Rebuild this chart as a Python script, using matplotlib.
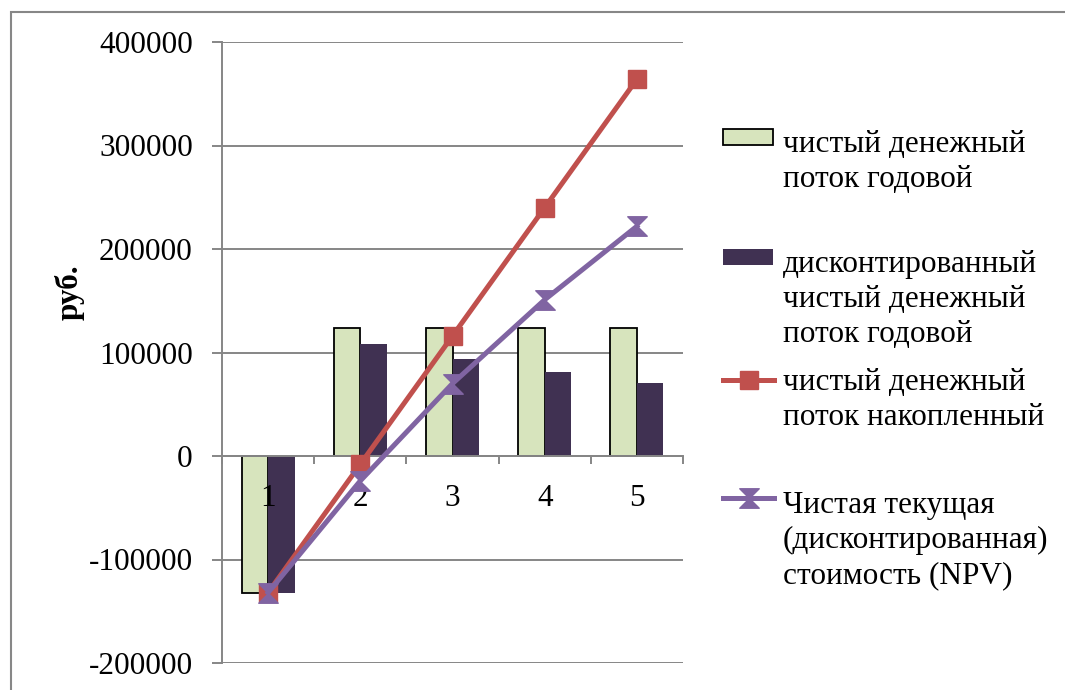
import matplotlib.pyplot as plt
import numpy as np
from matplotlib.lines import Line2D
from matplotlib.patches import Rectangle
from matplotlib.path import Path

plt.rcParams['font.family'] = ['Liberation Serif', 'DejaVu Serif']

years = ['1', '2', '3', '4', '5']
annual_flow = [-132000, 124000, 124000, 124000, 124000]
discounted_flow = [-132000, 108000, 94000, 81000, 71000]
cumulative_flow = [-132000, -8000, 116000, 240000, 364000]
npv = [-132000, -24000, 70000, 151000, 222000]

labels = [
    'чистый денежный\nпоток годовой',
    'дисконтированный\nчистый денежный\nпоток годовой',
    'чистый денежный\nпоток накопленный',
    'Чистая текущая\n(дисконтированная)\nстоимость (NPV)',
]

GREEN = '#D7E4BD'
PLUM = '#403152'
RED = '#C0504D'
VIOLET = '#8064A2'
GRID = '#868686'

# hourglass marker used for the NPV series
hourglass = Path([(-1, 1), (1, 1), (0, 0), (1, -1), (-1, -1), (0, 0), (-1, 1)],
                 [Path.MOVETO] + [Path.LINETO] * 5 + [Path.CLOSEPOLY])

W, H = 1065, 690
fig = plt.figure(figsize=(W / 100, H / 100), dpi=100)
ax = fig.add_axes([222 / W, 1 - 663 / H, (683 - 222) / W, (663 - 42) / H])

x = np.arange(len(years))
bw = 0.2875
ax.bar(x - bw / 2, annual_flow, bw, color=GREEN, edgecolor='black', linewidth=1.3, zorder=2)
ax.bar(x + bw / 2, discounted_flow, bw, color=PLUM, zorder=2)

red_style = dict(color=RED, lw=3.6, marker='s', ms=13, mec=RED, mfc=RED)
violet_style = dict(color=VIOLET, lw=3.6, marker=hourglass, ms=14, mec=VIOLET, mfc=VIOLET)
ax.plot(x, cumulative_flow, zorder=3, **red_style)
ax.plot(x, npv, zorder=4, **violet_style)

ax.set_xlim(-0.5, 4.5)
ax.set_ylim(-200000, 400000)
ax.set_yticks(np.arange(-200000, 400001, 100000))
ax.yaxis.set_major_formatter(plt.FuncFormatter(lambda v, _: f'{v:.0f}'))
ax.grid(axis='y', color=GRID, lw=1.4, zorder=0)
ax.set_axisbelow(True)
# category numbers sit over the bars but under the lines
ax.xaxis.set_zorder(2.5)

for side in ('top', 'right'):
    ax.spines[side].set_visible(False)
ax.spines['left'].set_color(GRID)
ax.spines['left'].set_linewidth(1.4)
ax.spines['bottom'].set_position(('data', 0))
ax.spines['bottom'].set_color(GRID)
ax.spines['bottom'].set_linewidth(1.4)

ax.set_xticks(x)
ax.set_xticklabels(years)
ax.set_xticks(np.arange(-0.5, 5, 1), minor=True)
ax.tick_params(axis='x', which='major', length=0, pad=20, labelsize=22.5)
ax.tick_params(axis='x', which='minor', length=6, width=1.4, color=GRID, direction='out')
ax.tick_params(axis='y', length=7, width=1.4, color=GRID, pad=14, labelsize=22.5)

fig.text(70 / W, 1 - 292 / H, 'руб.', rotation=90, fontsize=22.5, fontweight='bold',
         ha='center', va='center')

# legend, each handle level with the first line of its label
def fx(px):
    return px / W

def fy(py):
    return 1 - py / H

entries = [
    ('patch', dict(facecolor=GREEN, edgecolor='black', linewidth=1.3), 137, 130),
    ('patch', dict(facecolor=PLUM, edgecolor='none'), 257, 250),
    ('line', red_style, 380, 368),
    ('line', violet_style, 498, 491),
]
for (kind, style, hy, ty), label in zip(entries, labels):
    if kind == 'patch':
        fig.add_artist(Rectangle((fx(723), fy(hy + 8)), fx(50), 16 / H, transform=fig.transFigure, **style))
    else:
        fig.add_artist(Line2D([fx(723), fx(749), fx(774)], [fy(hy)] * 3, markevery=[1],
                              transform=fig.transFigure, **style))
    fig.text(fx(783), fy(ty), label, fontsize=22.5, va='top', ha='left', linespacing=1.27)

# chart frame
fig.add_artist(Rectangle((fx(11), -0.05), 1.1, fy(12) + 0.05, transform=fig.transFigure,
                         fill=False, edgecolor='#878787', linewidth=1.5))

fig.savefig('out.png', dpi=100)
